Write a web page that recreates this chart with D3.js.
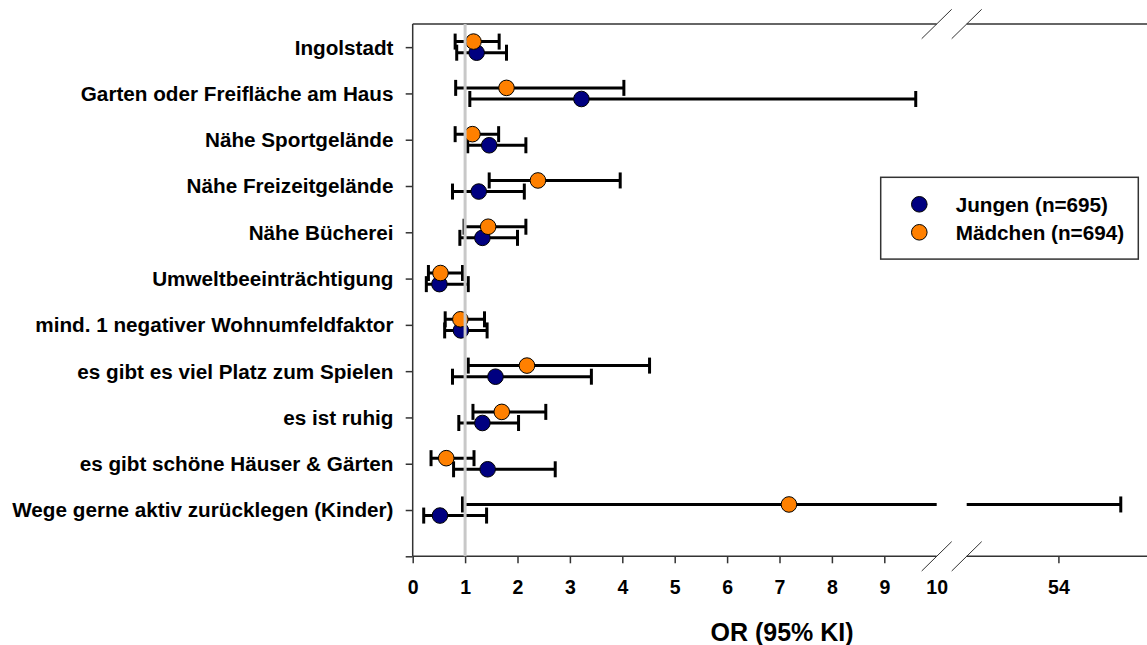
<!DOCTYPE html>
<html>
<head>
<meta charset="utf-8">
<script src="https://cdn.jsdelivr.net/npm/d3@7/dist/d3.min.js"></script>
<style>
  html, body { margin: 0; padding: 0; background: #fff; }
  svg { display: block; font-family: "Liberation Sans", Arial, sans-serif; font-weight: bold; }
</style>
</head>
<body>
<svg id="chart" width="1147" height="645"></svg>
<script>
const categories = [
  "Ingolstadt",
  "Garten oder Freifläche am Haus",
  "Nähe Sportgelände",
  "Nähe Freizeitgelände",
  "Nähe Bücherei",
  "Umweltbeeinträchtigung",
  "mind. 1 negativer Wohnumfeldfaktor",
  "es gibt es viel Platz zum Spielen",
  "es ist ruhig",
  "es gibt schöne Häuser & Gärten",
  "Wege gerne aktiv zurücklegen (Kinder)"
];
const boysOR  = [1.22, 3.22, 1.46, 1.26, 1.33, 0.51, 0.92, 1.58, 1.33, 1.43, 0.52];
const boysLo  = [0.84, 1.09, 1.05, 0.76, 0.90, 0.26, 0.61, 0.76, 0.88, 0.78, 0.21];
const boysHi  = [1.79, 9.60, 2.16, 2.13, 2.00, 1.06, 1.42, 3.41, 2.02, 2.72, 1.41];
const girlsOR = [1.16, 1.79, 1.14, 2.39, 1.44, 0.53, 0.91, 2.18, 1.70, 0.64, 7.18];
const girlsLo = [0.81, 0.82, 0.81, 1.46, 0.98, 0.30, 0.62, 1.06, 1.15, 0.35, 0.95];
const girlsHi = [1.65, 4.03, 1.64, 3.96, 2.16, 0.95, 1.37, 4.52, 2.54, 1.17, 55.19];
const seriesNames = ["Jungen (n=695)", "Mädchen (n=694)"];
const seriesColors = ["#000080", "#ff8000"];
const leftTicks = [0, 1, 2, 3, 4, 5, 6, 7, 8, 9, 10];
const rightTicks = [54];
const refValue = 1;
const axisTitle = "OR (95% KI)";

(function () {
const svg = d3.select("#chart");
const yTop = 24, yBottom = 556.3;
const xL = d3.scaleLinear().domain([0, 10]).range([412.7, 936.7]);
const xR = d3.scaleLinear().domain([52.25, 55.7]).range([966.7, 1147.5]);
const y = d3.scaleLinear().domain([0.5, 12]).range([yTop, yBottom]);
const axisColor = "#333";

function segments(lo, hi) {
  if (hi <= 10) return [[xL(lo), xL(hi)]];
  return [[xL(lo), xL(10)], [xR(xR.domain()[0]), xR(hi)]];
}
function xPos(v) { return v <= 10 ? xL(v) : xR(v); }

// Frame lines (top & bottom with break), left axis
const g = svg.append("g");
[yTop, yBottom].forEach(yy => {
  g.append("line").attr("x1", xL(0)).attr("x2", xL(10)).attr("y1", yy).attr("y2", yy)
    .attr("stroke", axisColor).attr("stroke-width", 1.5);
  g.append("line").attr("x1", xR.range()[0]).attr("x2", 1147).attr("y1", yy).attr("y2", yy)
    .attr("stroke", axisColor).attr("stroke-width", 1.5);
  [xL(10), xR.range()[0]].forEach(bx => {
    g.append("line").attr("x1", bx - 15).attr("y1", yy + 14.7).attr("x2", bx + 15).attr("y2", yy - 14.7)
      .attr("stroke", axisColor).attr("stroke-width", 1);
  });
});
g.append("line").attr("x1", xL(0)).attr("x2", xL(0)).attr("y1", yTop).attr("y2", yBottom)
  .attr("stroke", axisColor).attr("stroke-width", 1.5);

// Left ticks
const yAxis = svg.append("g").attr("transform", `translate(${xL(0)},0)`)
  .call(d3.axisLeft(y).tickValues(d3.range(1, 13)).tickSize(7).tickFormat(""));
yAxis.select(".domain").remove();
yAxis.selectAll(".tick line").attr("stroke", axisColor).attr("stroke-width", 1.5);

// Bottom ticks
const xAxisL = svg.append("g").attr("transform", `translate(0,${yBottom})`)
  .call(d3.axisBottom(xL).tickValues(leftTicks).tickFormat(d3.format("d")).tickSize(7).tickPadding(8));
const xAxisR = svg.append("g").attr("transform", `translate(0,${yBottom})`)
  .call(d3.axisBottom(xR).tickValues(rightTicks).tickFormat(d3.format("d")).tickSize(7).tickPadding(8));
[xAxisL, xAxisR].forEach(ax => {
  ax.select(".domain").remove();
  ax.selectAll(".tick line").attr("stroke", axisColor).attr("stroke-width", 1.5);
  ax.selectAll(".tick text").attr("font-size", "19.5px").attr("font-weight", "bold")
    .attr("font-family", '"Liberation Sans", Arial, sans-serif').attr("fill", "#000")
    .attr("y", 0).attr("dy", null).attr("transform", "translate(0,37.7)");
});
xAxisL.selectAll(".tick").filter(d => d === 10).select("line").remove();

// Category labels
svg.append("g").selectAll("text").data(categories).join("text")
  .attr("x", 393.5).attr("y", (d, i) => y(i + 1)).attr("dy", "0.36em")
  .attr("text-anchor", "end").attr("font-size", "20.7px").attr("fill", "#000")
  .text(d => d);

// Series data
const series = [
  { name: seriesNames[0], color: seriesColors[0], or: boysOR, lo: boysLo, hi: boysHi, off: 0.12 },
  { name: seriesNames[1], color: seriesColors[1], or: girlsOR, lo: girlsLo, hi: girlsHi, off: -0.12 }
];

const capH = 8;
series.forEach(s => {
  const gs = svg.append("g");
  categories.forEach((c, i) => {
    const yy = y(i + 1 + s.off);
    segments(s.lo[i], s.hi[i]).forEach(([a, b]) => {
      gs.append("line").attr("x1", a).attr("x2", b).attr("y1", yy).attr("y2", yy)
        .attr("stroke", "#000").attr("stroke-width", 3);
    });
    [s.lo[i], s.hi[i]].forEach(v => {
      gs.append("line").attr("x1", xPos(v)).attr("x2", xPos(v)).attr("y1", yy - capH).attr("y2", yy + capH)
        .attr("stroke", "#000").attr("stroke-width", 3);
    });
  });
});
series.forEach(s => {
  svg.append("g").selectAll("circle").data(s.or).join("circle")
    .attr("cx", d => xPos(d)).attr("cy", (d, i) => y(i + 1 + s.off)).attr("r", 7.8)
    .attr("fill", s.color).attr("stroke", "#000").attr("stroke-width", 1);
});

// Reference line at 1
svg.append("line").attr("x1", xL(refValue)).attr("x2", xL(refValue)).attr("y1", yTop).attr("y2", yBottom)
  .attr("stroke", "#c8c8c8").attr("stroke-width", 3);

// Axis title
svg.append("text").attr("x", 782).attr("y", 641).attr("text-anchor", "middle")
  .attr("font-size", "25px").attr("fill", "#000").text(axisTitle);

// Legend
const lg = svg.append("g");
lg.append("rect").attr("x", 880.7).attr("y", 177.3).attr("width", 257.6).attr("height", 81.8)
  .attr("fill", "#fff").attr("stroke", axisColor).attr("stroke-width", 1.5);
series.forEach((s, i) => {
  const cy = 204.3 + i * 28;
  lg.append("circle").attr("cx", 919.3).attr("cy", cy).attr("r", 7.8)
    .attr("fill", s.color).attr("stroke", "#000").attr("stroke-width", 1);
  lg.append("text").attr("x", 955.7).attr("y", cy).attr("dy", "0.36em")
    .attr("font-size", "20.7px").attr("fill", "#000").text(s.name);
});
})();
</script>
</body>
</html>
